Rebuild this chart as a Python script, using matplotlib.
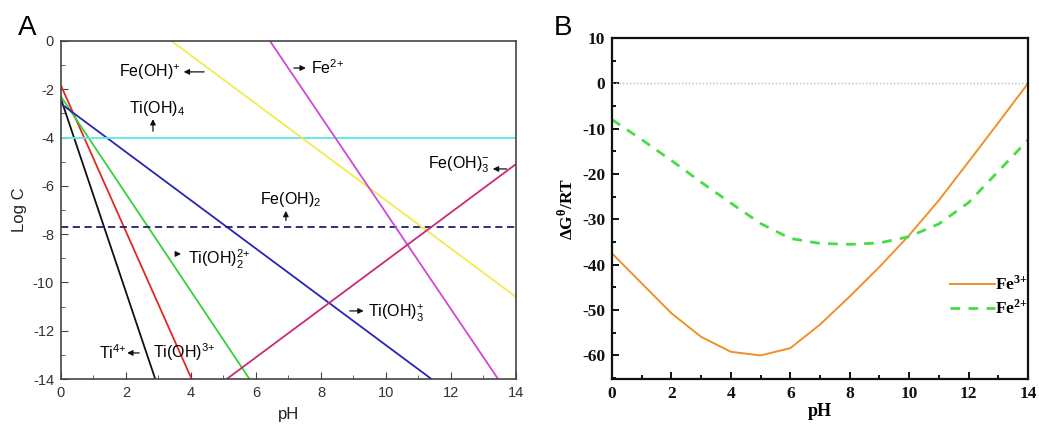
import numpy as np
import matplotlib
matplotlib.use('Agg')
import matplotlib.pyplot as plt
from matplotlib.ticker import MultipleLocator

plt.rcParams['font.family'] = ['Liberation Sans', 'DejaVu Sans']
plt.rcParams['mathtext.fontset'] = 'custom'
plt.rcParams['mathtext.rm'] = 'Liberation Sans'
plt.rcParams['mathtext.it'] = 'Liberation Sans:italic'
plt.rcParams['mathtext.bf'] = 'Liberation Serif:bold'
plt.rcParams['axes.unicode_minus'] = False

# ---- Panel A: log C vs pH (line endpoints) ----
ti4_x, ti4_y = [0, 2.9], [-2.4, -14]
tioh3_x, tioh3_y = [0, 4.02], [-1.85, -14]
tioh2_x, tioh2_y = [0, 5.8], [-2.3, -14]
tioh3p_x, tioh3p_y = [0, 11.4], [-2.6, -14]
tioh4_x, tioh4_y = [0, 14], [-4, -4]
feoh2_x, feoh2_y = [0, 14], [-7.7, -7.7]
feohp_x, feohp_y = [3.4, 14], [0, -10.6]
fe2_x, fe2_y = [6.43, 13.45], [0, -14]
feoh3m_x, feoh3m_y = [5.1, 14], [-14, -5.1]

# ---- Panel B: dG/RT vs pH ----
ph_b = [0, 1, 2, 3, 4, 5, 6, 7, 8, 9, 10, 11, 12, 13, 14]
fe3_g = [-37.5, -44.1, -50.7, -55.9, -59.2, -60.0, -58.4, -53.2, -47.0, -40.5, -33.5, -25.8, -17.3, -8.7, 0]
fe2_g = [-8.0, -12.4, -17.0, -21.8, -26.4, -30.9, -34.2, -35.3, -35.5, -35.2, -33.8, -31.0, -26.3, -19.4, -12.5]

fig = plt.figure(figsize=(10.39, 4.26), dpi=100)
ax1 = fig.add_axes([0.0587, 0.1103, 0.4379, 0.7935])
ax2 = fig.add_axes([0.589, 0.1103, 0.4004, 0.8005])

lw = 1.3
ax1.plot(ti4_x, ti4_y, color='#111111', lw=lw)
ax1.plot(tioh3_x, tioh3_y, color='#e02a20', lw=lw)
ax1.plot(tioh2_x, tioh2_y, color='#38d038', lw=lw)
ax1.plot(tioh3p_x, tioh3p_y, color='#2626b0', lw=lw)
ax1.plot(tioh4_x, tioh4_y, color='#5ee6e6', lw=lw)
ax1.plot(feoh2_x, feoh2_y, color='#202070', lw=lw, ls=(0, (4, 2.5)))
ax1.plot(feohp_x, feohp_y, color='#f0ec50', lw=lw)
ax1.plot(fe2_x, fe2_y, color='#d048d8', lw=lw)
ax1.plot(feoh3m_x, feoh3m_y, color='#cc2a78', lw=lw)

ax1.set_xlim(0, 14)
ax1.set_ylim(-14, 0)
ax1.xaxis.set_major_locator(MultipleLocator(2))
ax1.xaxis.set_minor_locator(MultipleLocator(1))
ax1.yaxis.set_major_locator(MultipleLocator(2))
ax1.yaxis.set_minor_locator(MultipleLocator(1))
ax1.tick_params(which='both', direction='in', colors='#444444', labelcolor='#333333',
                labelsize=10.5, top=False, right=False)
ax1.tick_params(which='major', length=5, pad=5)
ax1.tick_params(which='minor', length=3)
for s in ax1.spines.values():
    s.set_color('#444444')
    s.set_linewidth(1.2)
ax1.set_xlabel('pH', fontsize=12, color='#222222', labelpad=5)
ax1.set_ylabel('Log C', fontsize=12, color='#222222', labelpad=4)

arr = dict(arrowstyle='-|>', color='#111111', lw=0.9, mutation_scale=8)
fs = 11.5
# Fe(OH)+
ax1.annotate('', xy=(3.69, -1.28), xytext=(4.49, -1.28), arrowprops=arr)
ax1.text(3.66, -1.28, r'Fe(OH)$^{+}$', fontsize=fs, ha='right', va='center')
# Fe2+
ax1.annotate('', xy=(7.62, -1.12), xytext=(7.08, -1.12), arrowprops=arr)
ax1.text(7.69, -1.12, r'Fe$^{2{+}}$', fontsize=fs, ha='left', va='center')
# Ti(OH)4
ax1.annotate('', xy=(2.83, -3.12), xytext=(2.83, -3.85), arrowprops=arr)
ax1.text(2.09, -2.78, r'Ti(OH)$_{4}$', fontsize=fs, ha='left', va='center')
# Fe(OH)3-
ax1.annotate('', xy=(13.2, -5.3), xytext=(13.8, -5.3), arrowprops=arr)
ax1.text(11.29, -5.14, r'Fe(OH)$_{3}^{-}$', fontsize=fs, ha='left', va='center')
# Fe(OH)2
ax1.annotate('', xy=(6.92, -6.92), xytext=(6.92, -7.55), arrowprops=arr)
ax1.text(6.12, -6.55, r'Fe(OH)$_{2}$', fontsize=fs, ha='left', va='center')
# Ti(OH)2 2+
ax1.annotate('', xy=(3.78, -8.82), xytext=(3.45, -8.82), arrowprops=arr)
ax1.text(3.9, -9.03, r'Ti(OH)$_{2}^{2{+}}$', fontsize=fs, ha='left', va='center')
# Ti(OH)3+
ax1.annotate('', xy=(9.4, -11.18), xytext=(8.8, -11.18), arrowprops=arr)
ax1.text(9.45, -11.27, r'Ti(OH)$_{3}^{+}$', fontsize=fs, ha='left', va='center')
# Ti4+
ax1.annotate('', xy=(1.95, -12.92), xytext=(2.49, -12.92), arrowprops=arr)
ax1.text(1.17, -12.9, r'Ti$^{4{+}}$', fontsize=fs, ha='left', va='center')
ax1.text(2.83, -12.9, r'Ti(OH)$^{3{+}}$', fontsize=fs, ha='left', va='center')

fig.text(0.017, 0.935, 'A', fontsize=20, ha='left', va='center')
fig.text(0.533, 0.935, 'B', fontsize=20, ha='left', va='center')

# ---- Panel B ----
serif = ['Liberation Serif', 'DejaVu Serif']
ax2.axhline(0, color='#bbbbbb', lw=1.0, ls=(0, (1, 1.5)))
ax2.plot(ph_b, fe3_g, color='#f0902a', lw=1.4, label=r'Fe$^{\mathbf{3{+}}}$')
ax2.plot(ph_b, fe2_g, color='#44dd44', lw=2.0, ls=(0, (3.5, 3)), label=r'Fe$^{\mathbf{2{+}}}$')
ax2.set_xlim(0, 14)
ax2.set_ylim(-65.2, 10)
ax2.xaxis.set_major_locator(MultipleLocator(2))
ax2.xaxis.set_minor_locator(MultipleLocator(1))
ax2.yaxis.set_major_locator(MultipleLocator(10))
ax2.yaxis.set_minor_locator(MultipleLocator(5))
ax2.tick_params(which='both', direction='in', width=1.4, colors='#111111', labelsize=12.5,
                top=False, right=False)
ax2.tick_params(which='major', length=5, pad=5)
ax2.tick_params(which='minor', length=3)
for lbl in ax2.get_xticklabels() + ax2.get_yticklabels():
    lbl.set_fontfamily(serif)
    lbl.set_fontweight('bold')
for s in ax2.spines.values():
    s.set_linewidth(1.6)
    s.set_color('#111111')
ax2.set_xlabel('pH', fontsize=13, fontweight='bold', family=serif, labelpad=1)
ax2.set_ylabel(r'ΔG$^{\mathbf{θ}}$/RT', fontsize=12.5, fontweight='bold', family=serif, labelpad=4)
leg = ax2.legend(loc='lower right', bbox_to_anchor=(1.0, 0.18), frameon=False,
                 borderaxespad=0.0, borderpad=0.0,
                 prop={'family': serif, 'weight': 'bold', 'size': 12.5},
                 handlelength=2.6, handletextpad=0.0, labelspacing=0.3)

fig.savefig('out.png', dpi=100)
